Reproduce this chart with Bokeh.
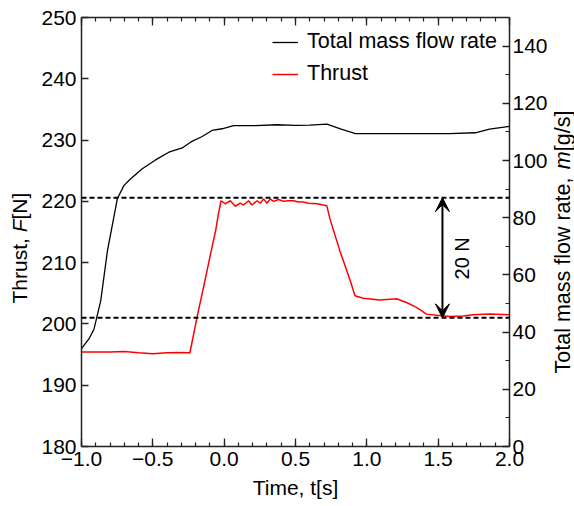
import math
from bokeh.plotting import figure
from bokeh.layouts import row
from bokeh.models import (Range1d, LinearAxis, FixedTicker, Span, Arrow, VeeHead,
                          Label, Legend, LegendItem)
from bokeh.embed import file_html
from bokeh.resources import INLINE

# ---------------- data ----------------
thrust_t = [-1.00, -0.90, -0.80, -0.70, -0.60, -0.50, -0.40, -0.30, -0.24,
            -0.19, -0.14, -0.09, -0.06, -0.04, -0.022,
            0.008, 0.043, 0.078, 0.113, 0.136, 0.171, 0.195, 0.230, 0.253, 0.276,
            0.300, 0.323, 0.346, 0.381, 0.416, 0.451, 0.486, 0.521, 0.556, 0.590,
            0.649, 0.695, 0.719, 0.742, 0.81, 0.883, 0.917, 0.975, 1.092, 1.208,
            1.278, 1.348, 1.418, 1.488, 1.58, 1.674, 1.743, 1.86, 2.00]
thrust = [195.4, 195.4, 195.4, 195.5, 195.3, 195.15, 195.3, 195.35, 195.3,
          201.1, 206.5, 212.0, 215.2, 218.0, 220.1,
          219.6, 220.1, 219.2, 219.7, 219.4, 220.1, 219.4, 220.1, 219.7, 220.4,
          219.7, 220.4, 220.0, 220.3, 220.0, 220.1, 220.1, 219.9, 219.9, 219.7,
          219.6, 219.4, 219.3, 217.1, 212.0, 207.1, 204.6, 204.2, 203.9, 204.1,
          203.5, 202.7, 201.6, 201.4, 201.2, 201.3, 201.5, 201.6, 201.5]

mass_t = [-1.00, -0.947, -0.912, -0.865, -0.818, -0.749, -0.702, -0.655, -0.574, -0.481,
          -0.388, -0.294, -0.236, -0.154, -0.085, -0.015, 0.066, 0.22, 0.37, 0.50,
          0.60, 0.72, 0.82, 0.92, 1.23, 1.58, 1.76, 1.86, 2.00]
mass_flow = [34.2, 37.7, 41.1, 51.0, 68.5, 86.6, 91.3, 93.6, 97.1, 100.2,
             102.9, 104.4, 106.4, 108.4, 110.5, 111.1, 112.2, 112.2, 112.5, 112.3,
             112.4, 112.7, 111.0, 109.4, 109.4, 109.4, 109.7, 111.0, 111.9]

ref_levels = [201.0, 220.6]          # dashed reference lines (N)
arrow_t = 1.53                        # time of the 20 N arrow
note_text = "20 N"
note_t, note_F = 1.665, 210.7

x_ticks = [-1.0, -0.5, 0.0, 0.5, 1.0, 1.5, 2.0]
x_tick_labels = ["\u22121.0", "\u22120.5", "0.0", "0.5", "1.0", "1.5", "2.0"]
x_minor = [round(-1.0 + 0.1 * i, 2) for i in range(31)]
yl_ticks = [180, 190, 200, 210, 220, 230, 240, 250]
yr_ticks = [0, 20, 40, 60, 80, 100, 120, 140]
yr_minor = [10, 30, 50, 70, 90, 110, 130, 150]

legend_labels = ["Total mass flow rate", "Thrust"]
x_title = "Time, t[s]"
# side titles as (text, style) pieces so that the symbol can be italic
yl_title = [("Thrust, ", "normal"), ("F", "italic"), ("[N]", "normal")]
yr_title = [("Total mass flow rate, ", "normal"), ("m", "italic"), ("[g/s]", "normal")]

FONT = "Liberation Sans"
TICK_FS = "21px"
LAB_FS = "21px"
AX_COL = "#222222"

H = 506
LEFT_W, MAIN_W, RIGHT_W = 36, 514, 24
B_TOP, B_BOTTOM = 17, 60

p = figure(width=MAIN_W, height=H, x_range=Range1d(-1.0, 2.0), y_range=Range1d(180, 250),
           output_backend="svg", toolbar_location=None,
           min_border_left=45, min_border_right=40, min_border_top=B_TOP,
           min_border_bottom=B_BOTTOM)
p.extra_y_ranges = {"mass": Range1d(0, 150)}
p.outline_line_color = None
p.xgrid.grid_line_color = None
p.ygrid.grid_line_color = None
p.background_fill_color = "white"
p.border_fill_color = "white"

top_axis = LinearAxis()
right_axis = LinearAxis(y_range_name="mass")
p.add_layout(top_axis, "above")
p.add_layout(right_axis, "right")

bx = p.below[0]
ly = p.left[0]

for ax in (bx, top_axis):
    ax.ticker = FixedTicker(ticks=x_ticks, minor_ticks=x_minor)
    ax.major_tick_in = 8
    ax.major_tick_out = 0
    ax.minor_tick_in = 4
    ax.minor_tick_out = 0
bx.major_label_overrides = {t: l for t, l in zip(x_ticks, x_tick_labels)}
top_axis.major_label_overrides = {t: "" for t in x_ticks}
top_axis.major_label_standoff = 0

ly.ticker = FixedTicker(ticks=yl_ticks)
ly.major_tick_in = 7
ly.major_tick_out = 0
ly.minor_tick_in = 0
ly.minor_tick_out = 0

right_axis.ticker = FixedTicker(ticks=yr_ticks, minor_ticks=yr_minor)
right_axis.major_tick_in = 7
right_axis.major_tick_out = 0
right_axis.minor_tick_in = 4
right_axis.minor_tick_out = 0

for ax in (bx, top_axis, ly, right_axis):
    ax.axis_line_color = AX_COL
    ax.axis_line_width = 1.5
    ax.major_tick_line_color = AX_COL
    ax.major_tick_line_width = 1.3
    ax.minor_tick_line_color = AX_COL
    ax.minor_tick_line_width = 1.2
    ax.major_label_text_font = FONT
    ax.major_label_text_color = "black"
    ax.major_label_text_font_size = TICK_FS
    ax.axis_label = None

bx.major_label_standoff = 5
ly.major_label_standoff = 5
right_axis.major_label_standoff = 3

bx.axis_label = x_title
bx.axis_label_standoff = 7
bx.axis_label_text_font = FONT
bx.axis_label_text_font_size = LAB_FS
bx.axis_label_text_font_style = "normal"
bx.axis_label_text_color = "black"

# reference lines
for lvl in ref_levels:
    p.add_layout(Span(location=lvl, dimension="width", line_color="black",
                      line_width=2, line_dash="5 3"))

r_mass = p.line(mass_t, mass_flow, y_range_name="mass", line_color="black", line_width=1.3)
r_thr = p.line(thrust_t, thrust, line_color="#ff0000", line_width=1.5)

p.add_layout(Arrow(x_start=arrow_t, y_start=ref_levels[0], x_end=arrow_t, y_end=ref_levels[1],
                   line_color="black", line_width=2,
                   start=VeeHead(size=14, fill_color="black", line_color="black"),
                   end=VeeHead(size=14, fill_color="black", line_color="black")))
p.add_layout(Label(x=note_t, y=note_F, text=note_text, angle=math.pi / 2,
                   text_align="center", text_baseline="middle", text_font=FONT,
                   text_font_size="20px", text_color="black"))

legend = Legend(items=[LegendItem(label=legend_labels[0], renderers=[r_mass]),
                       LegendItem(label=legend_labels[1], renderers=[r_thr])],
                location=(191, 360), orientation="vertical",
                glyph_width=26, glyph_height=20, label_height=20, label_standoff=9,
                spacing=7, padding=0, margin=0,
                label_text_font=FONT, label_text_font_size="21.5px", label_text_color="black",
                background_fill_alpha=0, border_line_alpha=0)
p.add_layout(legend)


# ---------- side strips carrying the vertical titles (frames align with the main frame) ----------
def strip(w):
    # strip coordinates: x in px from the strip's left, y in px from the page bottom
    f = figure(width=w, height=H, x_range=Range1d(0, w), y_range=Range1d(B_BOTTOM, H - B_TOP),
               x_axis_type=None, y_axis_type=None, output_backend="svg",
               toolbar_location=None, min_border_left=0, min_border_right=0,
               min_border_top=B_TOP, min_border_bottom=B_BOTTOM)
    f.outline_line_color = None
    f.background_fill_color = "white"
    f.border_fill_color = "white"
    return f


W = {"T": 611, "h": 556, "r": 333, "u": 556, "s": 500, "t": 278, ",": 278, " ": 278,
     "F": 611, "[": 278, "N": 722, "]": 278, "i": 222, "m": 833, "e": 556, "o": 556,
     "a": 556, "l": 222, "f": 278, "w": 722, "g": 556, "/": 278}


def put_vertical_title(f, parts, x0, y0, size):
    pos = 0.0
    for txt, style in parts:
        f.add_layout(Label(x=x0, y=y0 + pos, text=txt, angle=math.pi / 2,
                           text_align="left", text_baseline="alphabetic",
                           text_font=FONT, text_font_size=f"{size}px",
                           text_font_style=style, text_color="black"))
        pos += sum(W[c] for c in txt) * size / 1000.0


pL = strip(LEFT_W)
put_vertical_title(pL, yl_title, 18.5, H - 303, 21)

pR = strip(RIGHT_W)
put_vertical_title(pR, yr_title, 12, H - 373, 21.5)

layout = row(pL, p, pR)
open("out.html", "w").write(file_html(layout, INLINE))
